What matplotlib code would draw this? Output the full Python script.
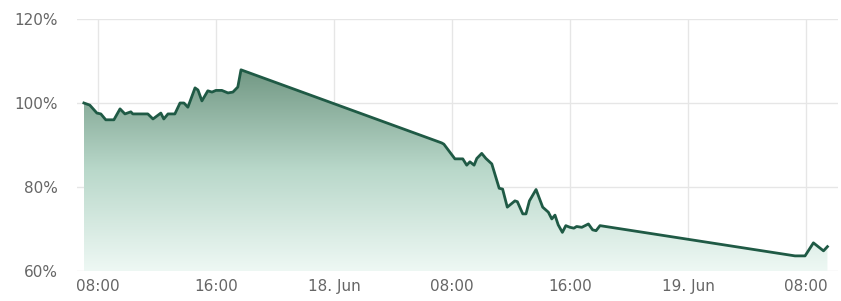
import matplotlib
matplotlib.use("Agg")
import matplotlib.pyplot as plt
import matplotlib.dates as mdates
import numpy as np
import pandas as pd
from matplotlib.colors import LinearSegmentedColormap
from matplotlib.ticker import FuncFormatter

# timestamps and relative value (%)
times = [
    "2024-06-17 07:03", "2024-06-17 07:27", "2024-06-17 07:56", "2024-06-17 08:12",
    "2024-06-17 08:32", "2024-06-17 09:05", "2024-06-17 09:30", "2024-06-17 09:50",
    "2024-06-17 10:14", "2024-06-17 10:22", "2024-06-17 11:23", "2024-06-17 11:44",
    "2024-06-17 12:16", "2024-06-17 12:28", "2024-06-17 12:45", "2024-06-17 13:13",
    "2024-06-17 13:34", "2024-06-17 13:50", "2024-06-17 14:06", "2024-06-17 14:35",
    "2024-06-17 14:47", "2024-06-17 15:03", "2024-06-17 15:27", "2024-06-17 15:44",
    "2024-06-17 16:00", "2024-06-17 16:24", "2024-06-17 16:49", "2024-06-17 17:09",
    "2024-06-17 17:29", "2024-06-17 17:42",
    "2024-06-18 07:18", "2024-06-18 07:27", "2024-06-18 08:12", "2024-06-18 08:44",
    "2024-06-18 09:00", "2024-06-18 09:13", "2024-06-18 09:30", "2024-06-18 09:41",
    "2024-06-18 10:01", "2024-06-18 10:18", "2024-06-18 10:42", "2024-06-18 11:12",
    "2024-06-18 11:26", "2024-06-18 11:45", "2024-06-18 12:16", "2024-06-18 12:26",
    "2024-06-18 12:48", "2024-06-18 13:01", "2024-06-18 13:15", "2024-06-18 13:42",
    "2024-06-18 14:09", "2024-06-18 14:32", "2024-06-18 14:46", "2024-06-18 14:59",
    "2024-06-18 15:12", "2024-06-18 15:29", "2024-06-18 15:43", "2024-06-18 16:00",
    "2024-06-18 16:16", "2024-06-18 16:27", "2024-06-18 16:48", "2024-06-18 17:15",
    "2024-06-18 17:32", "2024-06-18 17:46", "2024-06-18 18:02",
    "2024-06-19 07:15", "2024-06-19 07:56", "2024-06-19 08:30", "2024-06-19 09:11",
    "2024-06-19 09:27",
]
values = [
    100.0, 99.5, 97.6, 97.4, 96.0, 96.0, 98.6, 97.4, 97.9, 97.4,
    97.4, 96.2, 97.6, 96.2, 97.4, 97.4, 100.0, 100.0, 99.0, 103.6,
    103.1, 100.5, 102.9, 102.6, 103.0, 103.0, 102.4, 102.6, 103.8, 107.9,
    90.5, 90.2, 86.7, 86.7, 85.2, 86.0, 85.2, 86.8, 88.0, 86.8,
    85.5, 79.7, 79.5, 75.2, 76.7, 76.5, 73.6, 73.6, 76.7, 79.4,
    75.2, 74.0, 72.4, 73.3, 71.0, 69.2, 70.8, 70.4, 70.2, 70.6,
    70.4, 71.2, 69.8, 69.6, 70.8,
    63.6, 63.6, 66.7, 64.8, 65.8,
]
tick_times = ["2024-06-17 08:00", "2024-06-17 16:00", "2024-06-18 00:00",
              "2024-06-18 08:00", "2024-06-18 16:00", "2024-06-19 00:00",
              "2024-06-19 08:00"]
tick_labels = ["08:00", "16:00", "18. Jun", "08:00", "16:00", "19. Jun", "08:00"]
y_ticks = [60, 80, 100, 120]

x = mdates.date2num(pd.to_datetime(times))
y = np.array(values)

fig = plt.figure(figsize=(8.41, 3.01), dpi=100)
ax = fig.add_axes([77 / 841, 30 / 301, 761 / 841, 252 / 301])

x_lo = mdates.date2num(pd.Timestamp("2024-06-17 06:35"))
x_hi = mdates.date2num(pd.Timestamp("2024-06-19 10:10"))

# gradient fill under the line
cmap = LinearSegmentedColormap.from_list(
    "fill", [(0, "#eef8f4"), (0.5, "#b9d8ca"), (1, "#729884")])
grad = np.linspace(0, 1, 256).reshape(-1, 1)
img = ax.imshow(grad, cmap=cmap, aspect="auto", origin="lower",
                extent=[x[0], x[-1], 60, y.max()], zorder=1)
poly = ax.fill_between(x, y, 60, color="none", lw=0)
img.set_clip_path(poly.get_paths()[0], transform=ax.transData)
ax.set_xlim(x_lo, x_hi)
ax.set_ylim(60, 120)

ax.plot(x, y, color="#1f5a45", lw=2, zorder=3, solid_joinstyle="round")

ax.set_xticks(mdates.date2num(pd.to_datetime(tick_times)))
ax.set_xticklabels(tick_labels)
ax.set_yticks(y_ticks)
ax.yaxis.set_major_formatter(FuncFormatter(lambda v, _: f"{v:.0f}%"))

ax.grid(True, color="#e6e6e6", lw=1, zorder=0)
ax.set_axisbelow(True)
for s in ax.spines.values():
    s.set_visible(False)
ax.tick_params(axis="both", length=0, colors="#666666", labelsize=11)
ax.tick_params(axis="y", pad=14)
ax.tick_params(axis="x", pad=6)

fig.savefig("out.png", dpi=100)
